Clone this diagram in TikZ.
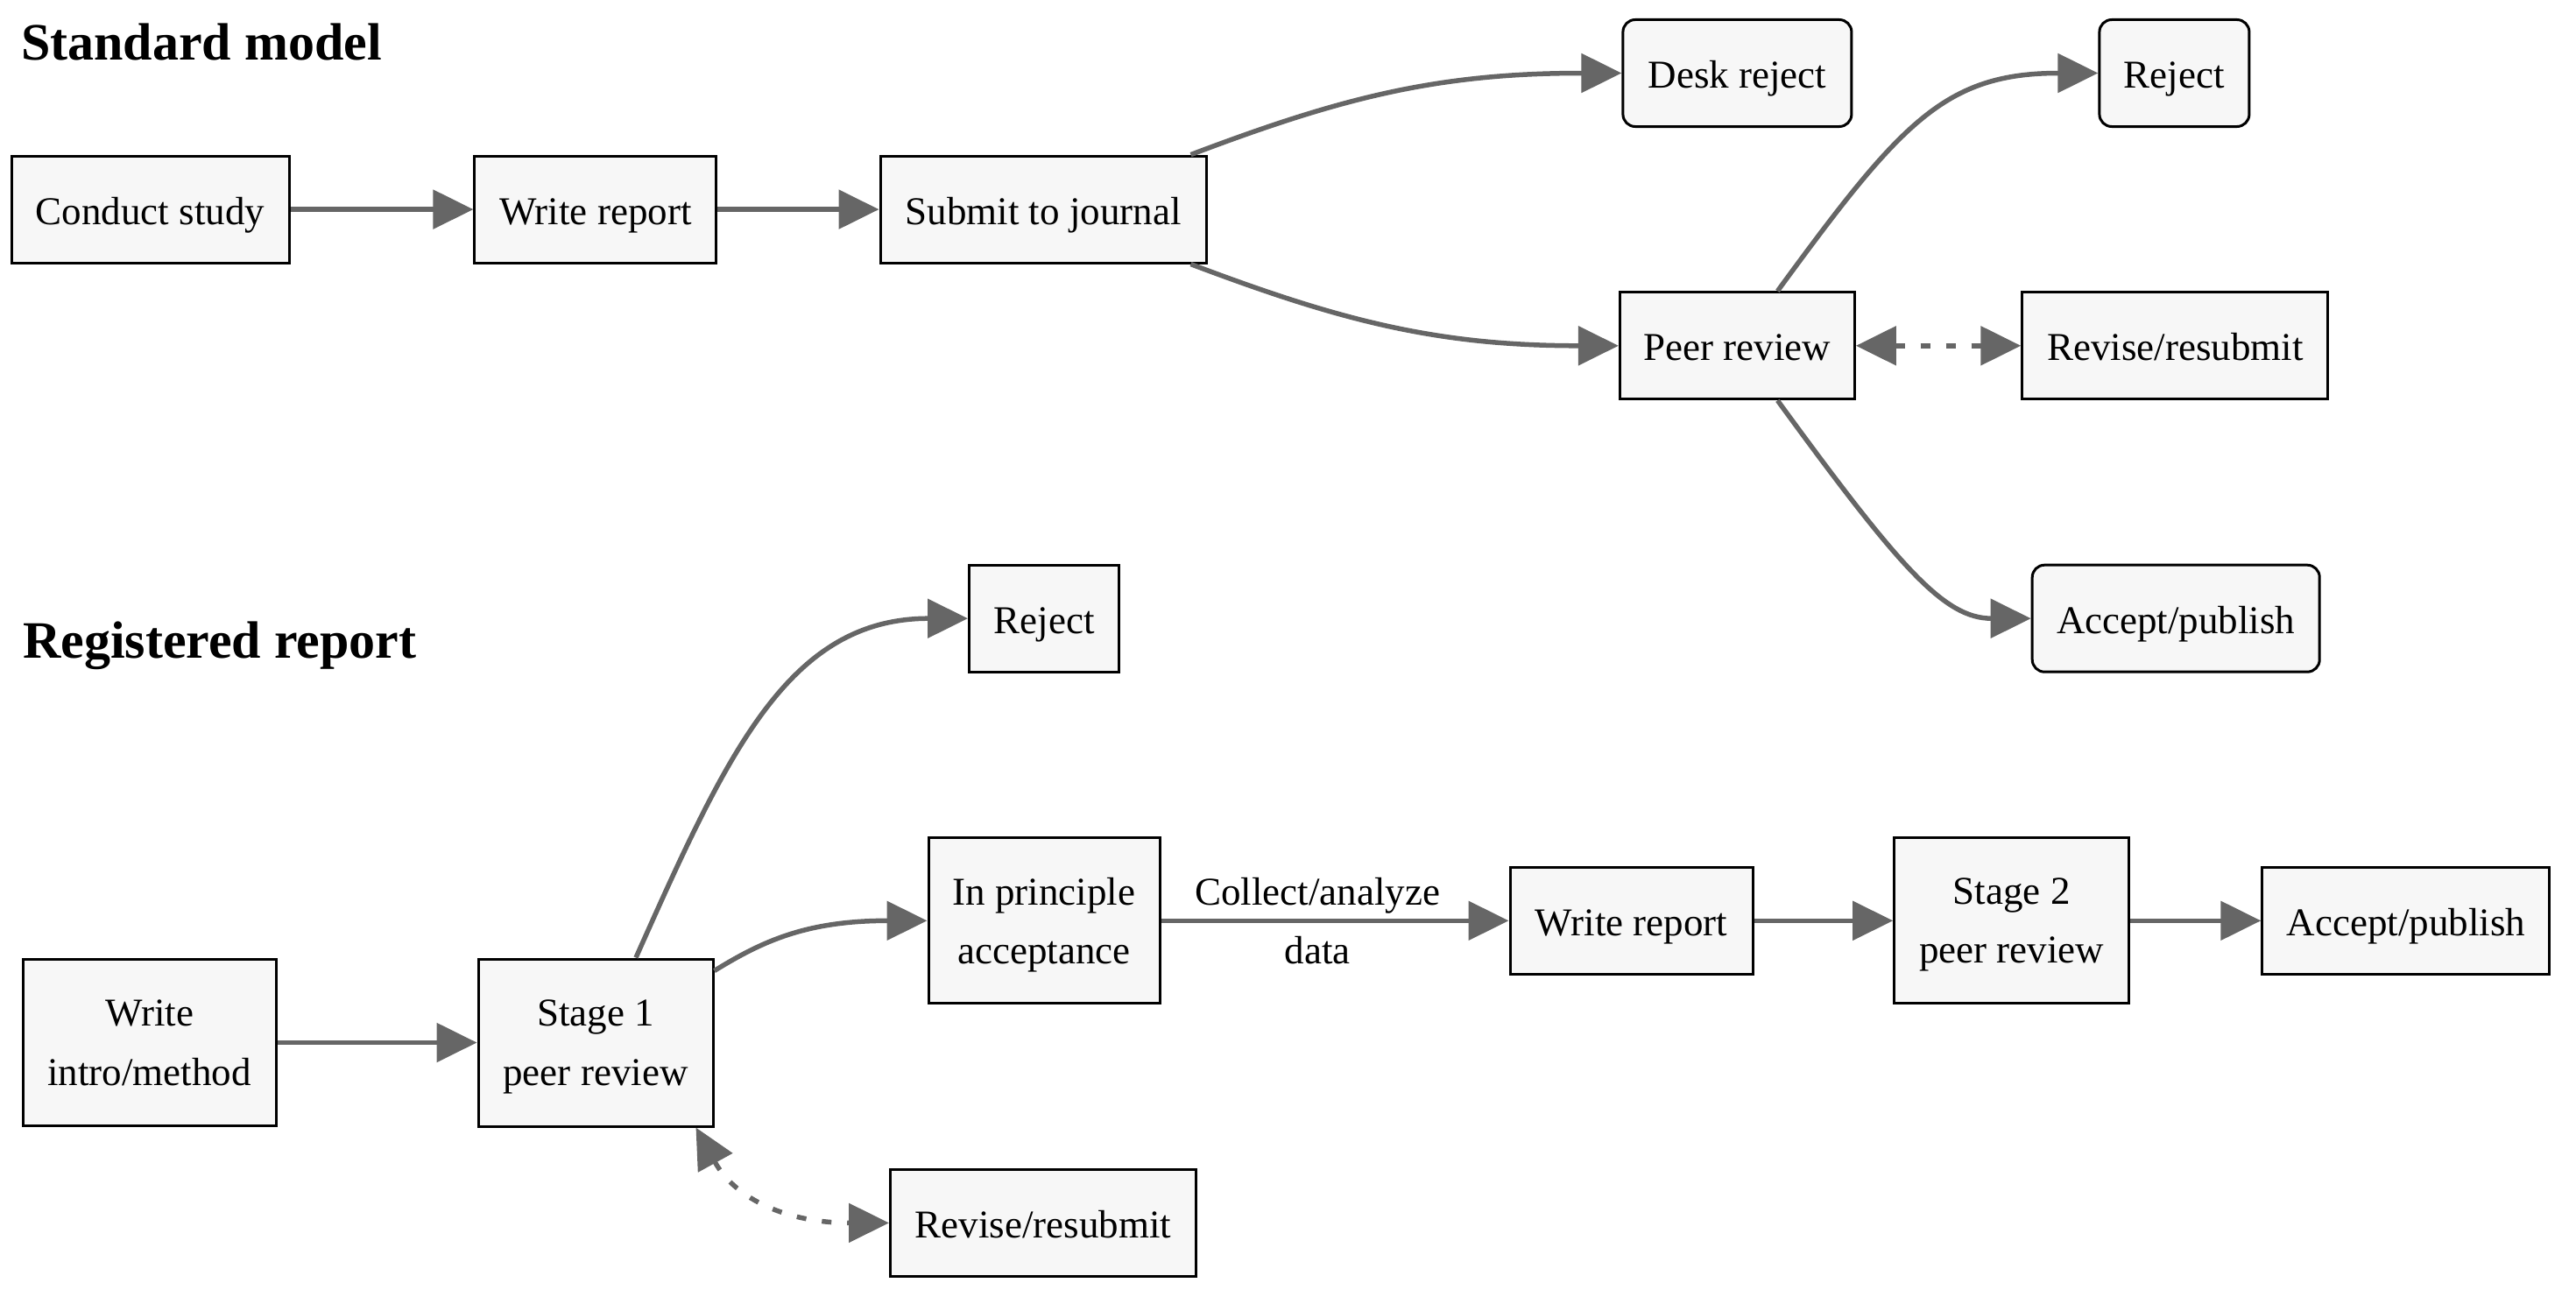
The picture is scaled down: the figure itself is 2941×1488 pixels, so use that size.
\documentclass[tikz,border=0pt]{standalone}
\usepackage{fontspec}
\setmainfont{Liberation Serif}
\usetikzlibrary{arrows.meta,calc}
\definecolor{boxfill}{HTML}{F7F7F7}
\definecolor{edgegray}{HTML}{666666}
\begin{document}
\begin{tikzpicture}[x=1pt,y=-1pt,
  box/.style={draw=black, line width=3pt, fill=boxfill, align=center, inner sep=0pt,
    text=black, text depth=0pt, font=\fontsize{45}{67.5}\selectfont},
  sbox/.style={box, text height=34pt, minimum height=122pt},
  rbox/.style={sbox, rounded corners=14pt},
  tipA/.tip={Triangle[length=46pt,width=44pt]},
  conn/.style={color=edgegray, line width=5.5pt, -tipA},
  dconn/.style={color=edgegray, line width=5.5pt, dash pattern=on 11pt off 18pt, tipA-tipA},
  sectitle/.style={font=\bfseries\fontsize{60}{72}\selectfont, anchor=base west, inner sep=0pt},
  lbl/.style={align=center, inner sep=0pt, text=black, text depth=0pt, font=\fontsize{45}{67.5}\selectfont}
]
\useasboundingbox (0,0) rectangle (2941,1488);

% titles
\node[sectitle] (t1) at (24,68) {Standard model};
\node[sectitle] (t2) at (26,751) {Registered report};

% standard model
\node[sbox, minimum width=317pt] (cs) at (171.6,239.1) {Conduct study};
\node[sbox, minimum width=276pt] (wr1) at (679.9,239.1) {Write report};
\node[sbox, minimum width=372pt] (sub) at (1191,239.1) {Submit to journal};
\node[rbox, minimum width=261pt] (dr) at (1983.4,83.5) {Desk reject};
\node[sbox, minimum width=268pt] (pr) at (1983.4,394.8) {Peer review};
\node[rbox, minimum width=171pt] (rj1) at (2482.4,83.5) {Reject};
\node[sbox, minimum width=349pt] (rv1) at (2483.3,394.8) {Revise/resubmit};
\node[rbox, minimum width=328pt] (ap1) at (2484.2,706.2) {Accept/publish};

% registered report
\node[sbox, minimum width=171pt] (rj2) at (1192,706.2) {Reject};
\node[box, minimum width=289pt, minimum height=190pt] (wim) at (170.7,1190.5) {Write\\intro/method};
\node[box, minimum width=268pt, minimum height=191pt] (s1) at (680,1190.5) {Stage 1\\peer review};
\node[box, minimum width=264pt, minimum height=189pt] (ipa) at (1192,1051.3) {In principle\\acceptance};
\node[sbox, minimum width=277pt] (wr2) at (1862.5,1051.3) {Write report};
\node[box, minimum width=268pt, minimum height=189pt] (s2) at (2296.7,1051.3) {Stage 2\\peer review};
\node[sbox, minimum width=328pt] (ap2) at (2746.8,1051.3) {Accept/publish};
\node[sbox, minimum width=349pt] (rv2) at (1191,1396.4) {Revise/resubmit};

% standard model edges
\draw[conn] (cs.east) -- (wr1.west);
\draw[conn] (wr1.east) -- (sub.west);
\draw[conn] ($(sub.north east)+(-19,0)$) .. controls (1530,112) and (1640,83.5) .. (dr.west);
\draw[conn] ($(sub.south east)+(-19,0)$) .. controls (1530,366) and (1640,394.8) .. (pr.west);
\draw[conn] ($(pr.north)+(46,0)$) .. controls (2170,140) and (2220,83.5) .. (rj1.west);
\draw[conn] ($(pr.south)+(46,0)$) .. controls (2170,650) and (2220,706.2) .. (ap1.west);
\draw[dconn] (pr.east) -- (rv1.west);

% registered report edges
\draw[conn] (wim.east) -- (s1.west);
\draw[conn] ($(s1.north)+(46,0)$) .. controls (830,860) and (900,706.2) .. (rj2.west);
\draw[conn] ($(s1.north east)+(0,15)$) .. controls (870,1075) and (920,1051.3) .. (ipa.west);
\draw[conn] (ipa.east) -- node[lbl, pos=0.45] {Collect/analyze\\data} (wr2.west);
\draw[conn] (wr2.east) -- (s2.west);
\draw[conn] (s2.east) -- (ap2.west);
\draw[dconn] ($(s1.south east)+(-21,0)$) .. controls (840,1370) and (900,1396.4) .. (rv2.west);
\end{tikzpicture}
\end{document}
